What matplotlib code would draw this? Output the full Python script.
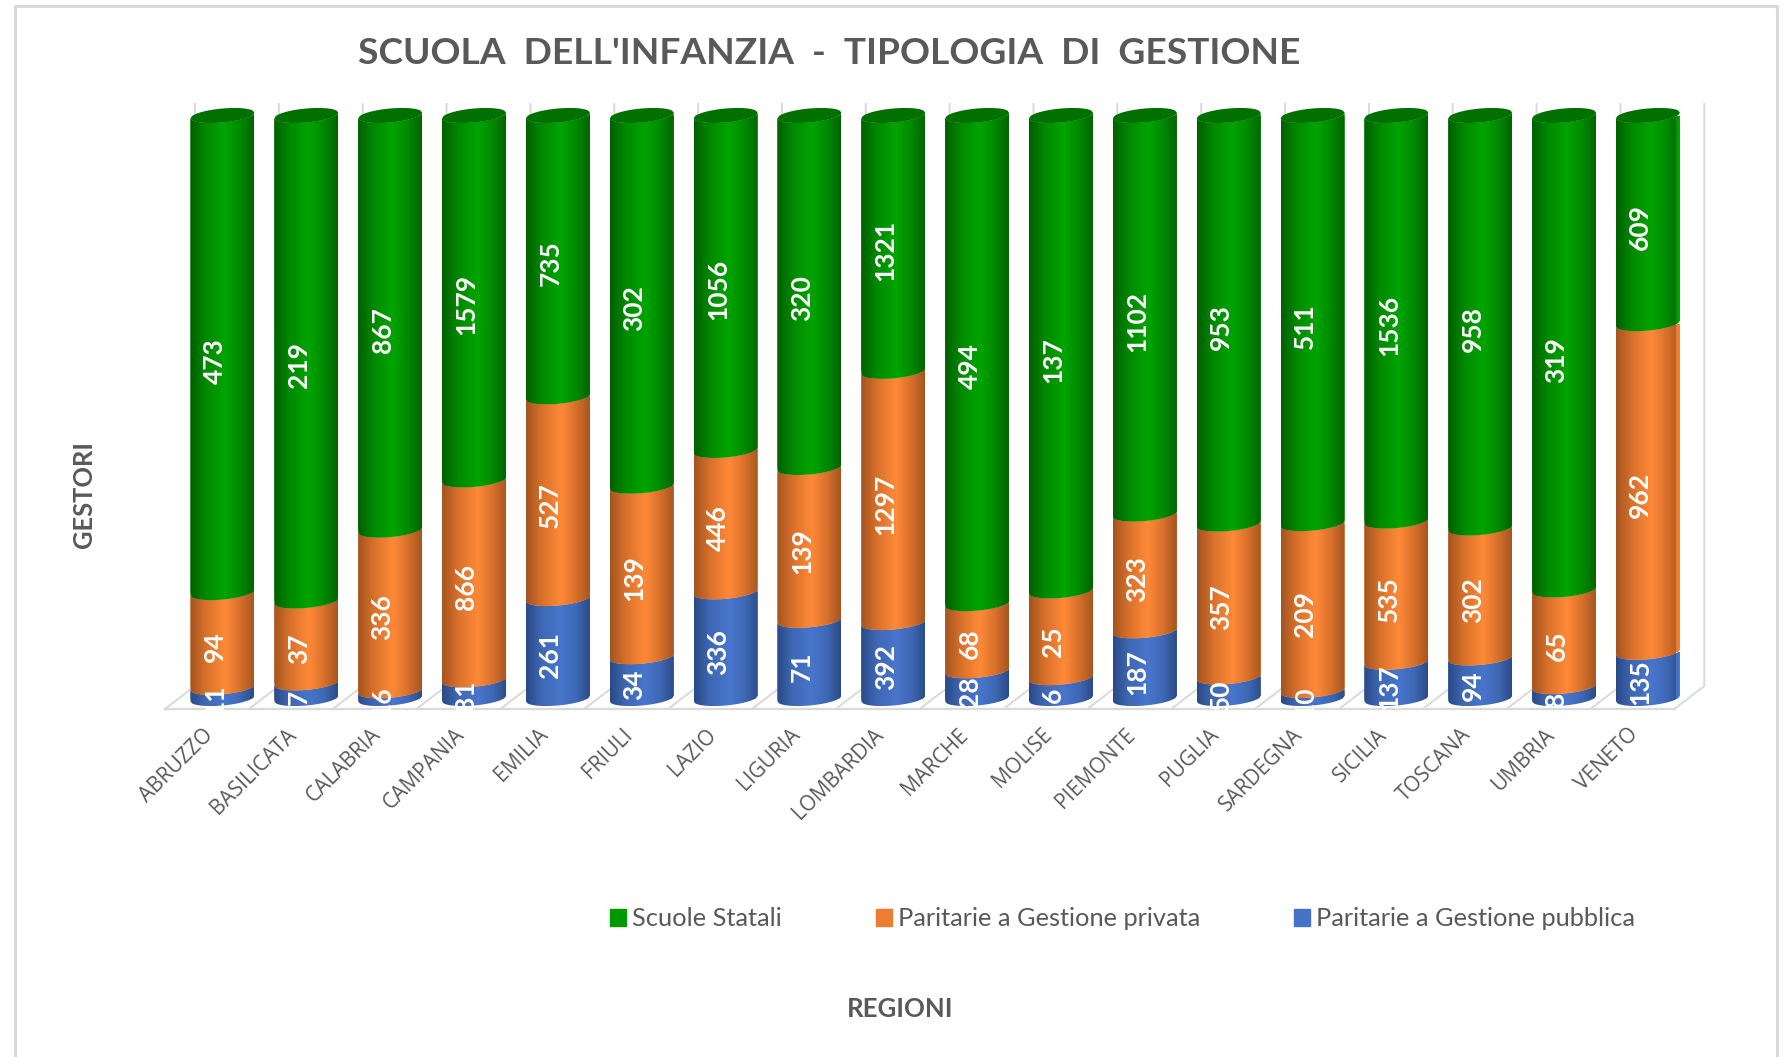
import numpy as np
import matplotlib
matplotlib.use("Agg")
import matplotlib.pyplot as plt
from matplotlib.path import Path
from matplotlib.patches import PathPatch, Patch
from matplotlib.lines import Line2D
from matplotlib.colors import LinearSegmentedColormap
from matplotlib.transforms import ScaledTranslation

regioni = ["ABRUZZO", "BASILICATA", "CALABRIA", "CAMPANIA", "EMILIA", "FRIULI",
           "LAZIO", "LIGURIA", "LOMBARDIA", "MARCHE", "MOLISE", "PIEMONTE",
           "PUGLIA", "SARDEGNA", "SICILIA", "TOSCANA", "UMBRIA", "VENETO"]
pubblica = [11, 7, 16, 81, 261, 34, 336, 71, 392, 28, 6, 187, 50, 10, 137, 94, 8, 135]
privata = [94, 37, 336, 866, 527, 139, 446, 139, 1297, 68, 25, 323, 357, 209, 535, 302, 65, 962]
statali = [473, 219, 867, 1579, 735, 302, 1056, 320, 1321, 494, 137, 1102, 953, 511, 1536, 958, 319, 609]
serie_nomi = ["Paritarie a Gestione pubblica", "Paritarie a Gestione privata", "Scuole Statali"]

W, H = 1788, 1057
plt.rcParams['font.family'] = ['Lato', 'DejaVu Sans']
fig = plt.figure(figsize=(W / 100, H / 100), dpi=100, facecolor='white')

# plot box in pixels
L, R, T, B = 165.0, 1675.0, 96.0, 709.0
ax = fig.add_axes([L / W, 1 - B / H, (R - L) / W, (B - T) / H])
P0, P100 = 698.5, 115.5   # pixel rows of 0 % and 100 % on the bar axis
step = 83.85
c0 = 222.5
ax.set_xlim((L - c0) / step, (R - c0) / step)
ppp = (P0 - P100) / 100.0
ax.set_ylim((P0 - B) / ppp, (P0 - T) / ppp)
ax.patch.set_alpha(0)
for s in ['top', 'left', 'right']:
    ax.spines[s].set_visible(False)
GRID = '#d9d9d9'
ax.spines['bottom'].set_color(GRID)
ax.spines['bottom'].set_linewidth(1.6)
ax.set_yticks([])
ax.set_xticks(range(len(regioni)))
ax.set_xticklabels(regioni, rotation=45, ha='right', va='top', rotation_mode='anchor',
                   fontsize=15, color='#595959', family='Open Sans')
ax.tick_params(axis='x', length=0, pad=11)
shift = ScaledTranslation(-20 / 100, 0, fig.dpi_scale_trans)
for lab in ax.get_xticklabels():
    lab.set_transform(lab.get_transform() + shift)

dx = 1.0 / step          # one pixel in x data units
dy = 1.0 / ppp           # one pixel in y data units
half = 32.0 * dx
h_e = 7.0 * dy
shear = 2.8 * dy

# floor and back wall
for k in range(len(regioni) + 1):
    x_f = (L + k * step - c0) / step
    x_b = x_f + 30 * dx
    y_f = ax.get_ylim()[0]
    y_b = (P0 - 686) / ppp
    y_t = (P0 - 104) / ppp
    ax.plot([x_f, x_b, x_b], [y_f, y_b, y_t], color=GRID, lw=1.4, clip_on=False, zorder=1)


def arc(xc, yc, front=True, reverse=False, n=40):
    u = np.linspace(-1, 1, n)
    sgn = -1 if front else 1
    y = yc + sgn * h_e * np.sqrt(1 - u ** 2) + shear * u
    pts = np.column_stack([xc + half * u, y])
    return pts[::-1] if reverse else pts


def cmap_for(edge_l, mid, edge_r):
    return LinearSegmentedColormap.from_list(
        'c', [(0, edge_l), (0.25, mid[0]), (0.55, mid[1]), (0.78, mid[0]), (1, edge_r)])


styles = [
    dict(base='#4472c4', cm=cmap_for('#2a4a85', ('#3f68b6', '#4876cc'), '#2c4c88')),
    dict(base='#ed7d31', cm=cmap_for('#a4541f', ('#d9712b', '#ff8a38'), '#a65620')),
    dict(base='#009900', cm=cmap_for('#005f00', ('#008a00', '#00a400'), '#006400')),
]
grad = np.linspace(0, 1, 128).reshape(1, -1)

values = np.array([pubblica, privata, statali], dtype=float)
totals = values.sum(axis=0)
pct = values / totals * 100
bottoms = np.vstack([np.zeros(len(regioni)), np.cumsum(pct, axis=0)[:-1]])

for j in range(3):
    bars = ax.bar(np.arange(len(regioni)), pct[j], bottom=bottoms[j], width=2 * half,
                  color=styles[j]['base'], zorder=3 + j)
    for i, bar in enumerate(bars):
        low = bottoms[j][i]
        up = low + pct[j][i]
        # lower front arc of this segment, then upper front arc backwards
        pts = np.vstack([arc(i, low), arc(i, up, reverse=True)])
        clip = PathPatch(Path(np.vstack([pts, pts[0]])), transform=ax.transData,
                         fc='none', ec='none', clip_on=False)
        ax.add_patch(clip)
        bar.set_clip_path(clip)
        bar.set_clip_box(None)
        im = ax.imshow(grad, extent=(i - half, i + half, low - 2 * h_e, up + 2 * h_e),
                       aspect='auto', cmap=styles[j]['cm'], origin='lower',
                       zorder=3.5 + j, interpolation='bilinear')
        im.set_clip_path(clip)
        im.set_clip_box(None)
        ax.annotate(f"{int(values[j][i])}", xy=(i, low + pct[j][i] / 2), xytext=(-5.5, -5),
                    textcoords='offset points', rotation=90, ha='center', va='center',
                    color='white', fontsize=19, fontweight='bold', zorder=10,
                    annotation_clip=False)

# top caps
for i in range(len(regioni)):
    pts = np.vstack([arc(i, 100), arc(i, 100, front=False, reverse=True)])
    ax.add_patch(PathPatch(Path(pts), fc='#007000', ec='none', zorder=7, clip_on=False))

ax.set_xlim((L - c0) / step, (R - c0) / step)
ax.set_ylim((P0 - B) / ppp, (P0 - T) / ppp)

# outer frame (open at bottom)
fig.add_artist(Line2D([15 / W, 15 / W, 1777 / W, 1777 / W], [0, 1 - 6 / H, 1 - 6 / H, 0],
                      color=GRID, lw=2.2))

fig.text(829 / W, 1 - 54 / H, "SCUOLA  DELL'INFANZIA  -  TIPOLOGIA  DI  GESTIONE", ha='center', va='center',
         fontsize=26.7, fontweight='bold', color='#595959')
fig.text(84 / W, 1 - 495 / H, "GESTORI", rotation=90, ha='center', va='center',
         fontsize=18.4, fontweight='bold', color='#595959')
fig.text(900 / W, 1 - 1009 / H, "REGIONI", ha='center', va='center',
         fontsize=18.5, fontweight='bold', color='#595959')

handles = [Patch(color='#009900'), Patch(color='#ed7d31'), Patch(color='#4472c4')]
leg = fig.legend(handles, [serie_nomi[2], serie_nomi[1], serie_nomi[0]], ncol=3, frameon=False,
                 loc='center left', bbox_to_anchor=(610 / W, 1 - 919 / H),
                 fontsize=18.3, labelcolor='#595959', handlelength=0.62, handleheight=0.62,
                 handletextpad=0.25, columnspacing=3.7, borderpad=0, borderaxespad=0)

fig.savefig('out.png', dpi=100)
